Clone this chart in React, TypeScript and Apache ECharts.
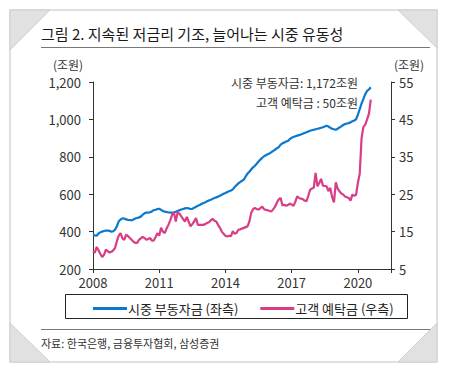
import React, { useEffect, useRef } from 'react';
import * as echarts from 'echarts';

// Monthly data, January 2008 to August 2020
const startYear = 2008;
const xTickYears = [2008, 2011, 2014, 2017, 2020];
const leftAxisRange = [200, 1200];
const rightAxisRange = [5, 55];
const seriesNames = ['시중 부동자금 (좌측)', '고객 예탁금 (우측)'];

// 시중 부동자금 (조원), left axis
const liquidity = [
  383, 380, 378, 390, 396, 400, 403, 405, 406, 404, 399, 402,
  410, 430, 455, 465, 471, 470, 465, 463, 462, 460, 465, 470,
  473, 476, 480, 490, 498, 502, 502, 503, 508, 515, 517, 520,
  522, 516, 510, 507, 505, 503, 502, 502, 503, 506, 510, 514,
  518, 521, 524, 526, 524, 521, 522, 527, 533, 538, 542, 548,
  553, 556, 562, 566, 570, 575, 580, 583, 587, 592, 597, 602,
  606, 612, 616, 620, 626, 638, 648, 658, 665, 672, 678, 695,
  710, 720, 732, 744, 752, 763, 775, 785, 795, 803, 808, 814,
  818, 825, 832, 838, 846, 852, 865, 872, 877, 882, 885, 895,
  902, 906, 910, 913, 916, 919, 923, 927, 931, 935, 939, 942,
  945, 947, 950, 952, 955, 958, 962, 966, 962, 955, 950, 947,
  945, 950, 957, 963, 970, 975, 978, 980, 984, 990, 994, 1000,
  1025, 1055, 1085, 1110, 1135, 1152, 1160, 1172,
];

// 고객 예탁금 (조원), right axis
const deposits = [
  9.7, 9.4, 10.9, 10.0, 9.0, 8.2, 8.8, 10.2, 9.8, 9.4, 9.6, 10.0,
  10.6, 12.5, 13.9, 14.6, 13.2, 12.8, 14.2, 13.8, 13.3, 12.8, 12.3, 12.0,
  12.0, 12.8, 13.2, 13.6, 13.3, 12.8, 13.0, 13.3, 12.6, 12.6, 13.5, 14.6,
  13.9, 16.0, 15.0, 14.6, 15.8, 16.8, 18.0, 19.5, 20.1, 17.7, 20.1, 19.8,
  19.1, 18.3, 17.7, 18.9, 17.7, 16.4, 17.0, 17.7, 18.6, 16.8, 16.8, 16.8,
  16.8, 17.0, 17.3, 17.5, 18.0, 18.4, 17.9, 17.7, 16.8, 16.0, 15.0, 14.4,
  13.9, 13.7, 13.9, 13.8, 15.1, 14.4, 14.6, 15.5, 15.6, 15.8, 16.0, 16.2,
  16.4, 17.7, 20.0, 21.0, 21.3, 21.0, 20.9, 21.3, 21.7, 21.0, 20.8, 20.7,
  20.5, 20.4, 21.0, 21.7, 22.8, 23.6, 24.0, 22.0, 22.2, 21.9, 22.1, 22.5,
  22.2, 21.9, 23.0, 24.4, 24.0, 23.8, 23.7, 23.3, 23.1, 24.5, 26.2, 26.5,
  26.7, 30.7, 27.1, 28.0, 29.1, 27.3, 27.2, 27.1, 25.8, 26.7, 24.2, 22.8,
  28.2, 26.5, 25.8, 25.2, 24.9, 24.4, 24.2, 24.0, 23.3, 24.9, 24.6, 24.8,
  28.0, 30.5, 40.0, 43.0, 43.6, 45.0, 46.5, 50.3,
];

const annotations = ['시중 부동자금: 1,172조원', '고객 예탁금 : 50조원'];
const titleText = '그림 2. 지속된 저금리 기조, 늘어나는 시중 유동성';
const sourceText = '자료: 한국은행, 금융투자협회, 삼성증권';
const unitText = '(조원)';

const FONT = '"Noto Sans CJK KR", "Noto Sans", sans-serif';
const BLUE = '#0a78cf';
const PINK = '#d93d86';
const TXT = '#333333';

const toPairs = (arr: number[]) => arr.map((v, i) => [startYear + i / 12, v]);

export default function App() {
  const ref = useRef<HTMLDivElement>(null);
  useEffect(() => {
    if (!ref.current) return;
    const chart = echarts.init(ref.current, null, { renderer: 'svg' });
    const tri = (pts: number[][]) => ({
      type: 'polygon',
      shape: { points: pts },
      style: { fill: '#e1e1e1', stroke: '#cfcfcf', lineWidth: 1 },
      z: 1,
    });
    chart.setOption({
      animation: false,
      backgroundColor: '#ffffff',
      textStyle: { fontFamily: FONT },
      grid: { left: 93, right: 58, top: 82, bottom: 104, containLabel: false },
      legend: {
        left: 88,
        top: 297,
        itemWidth: 34,
        itemHeight: 3,
        itemGap: 22,
        icon: 'rect',
        textStyle: { fontFamily: FONT, fontSize: 13, color: '#222', padding: [0, 0, 0, -4] },
        data: seriesNames,
      },
      xAxis: {
        type: 'value',
        min: 2008,
        max: 2021.5,
        interval: 3,
        axisLine: { lineStyle: { color: '#333', width: 1 } },
        axisTick: { show: true, inside: false, length: 4, lineStyle: { color: '#333' } },
        splitLine: { show: false },
        axisLabel: {
          color: TXT,
          fontSize: 13,
          fontFamily: FONT,
          margin: 7,
          formatter: (v: number) => (xTickYears.includes(v) ? String(v) : ''),
        },
      },
      yAxis: [
        {
          type: 'value',
          min: leftAxisRange[0],
          max: leftAxisRange[1],
          interval: 200,
          position: 'left',
          axisLine: { show: true, lineStyle: { color: '#333', width: 1 } },
          axisTick: { show: true, inside: false, length: 4, lineStyle: { color: '#333' } },
          splitLine: { show: false },
          axisLabel: {
            color: TXT,
            fontSize: 13,
            fontFamily: FONT,
            margin: 12,
            formatter: (v: number) => v.toLocaleString('en-US'),
          },
        },
        {
          type: 'value',
          min: rightAxisRange[0],
          max: rightAxisRange[1],
          interval: 10,
          position: 'right',
          axisLine: { show: true, lineStyle: { color: '#333', width: 1 } },
          axisTick: { show: true, inside: false, length: 4, lineStyle: { color: '#333' } },
          splitLine: { show: false },
          axisLabel: { color: TXT, fontSize: 13, fontFamily: FONT, margin: 8 },
        },
      ],
      series: [
        {
          name: seriesNames[0],
          type: 'line',
          yAxisIndex: 0,
          data: toPairs(liquidity),
          showSymbol: false,
          symbol: 'none',
          lineStyle: { color: BLUE, width: 2.2 },
          itemStyle: { color: BLUE },
          z: 3,
        },
        {
          name: seriesNames[1],
          type: 'line',
          yAxisIndex: 1,
          data: toPairs(deposits),
          showSymbol: false,
          symbol: 'none',
          lineStyle: { color: PINK, width: 2.2 },
          itemStyle: { color: PINK },
          z: 4,
        },
      ],
      graphic: [
        {
          type: 'rect',
          shape: { x: 10, y: 10, width: 427, height: 352 },
          style: { fill: 'none', stroke: '#d6d6d6', lineWidth: 1.5 },
          z: 0,
        },
        tri([[10, 10], [50, 10], [10, 50]]),
        tri([[398, 10], [437, 10], [437, 48]]),
        tri([[10, 323], [10, 362], [50, 362]]),
        tri([[437, 323], [437, 362], [398, 362]]),
        {
          type: 'text',
          x: 41,
          y: 33,
          style: { text: titleText, fontSize: 15, fontFamily: FONT, fill: '#1a1a1a', verticalAlign: 'middle', fontWeight: 'normal' },
        },
        {
          type: 'line',
          shape: { x1: 41, y1: 47.5, x2: 430, y2: 47.5 },
          style: { stroke: '#777', lineWidth: 1 },
        },
        {
          type: 'text',
          x: 68,
          y: 64,
          style: { text: unitText, fontSize: 12, fontFamily: FONT, fill: TXT, align: 'center', verticalAlign: 'middle' },
        },
        {
          type: 'text',
          x: 409,
          y: 64,
          style: { text: unitText, fontSize: 12, fontFamily: FONT, fill: TXT, align: 'center', verticalAlign: 'middle' },
        },
        {
          type: 'text',
          x: 358,
          y: 82,
          style: { text: annotations[0], fontSize: 12, fontFamily: FONT, fill: TXT, align: 'right', verticalAlign: 'middle' },
        },
        {
          type: 'text',
          x: 358,
          y: 102,
          style: { text: annotations[1], fontSize: 12, fontFamily: FONT, fill: TXT, align: 'right', verticalAlign: 'middle' },
        },
        {
          type: 'rect',
          shape: { x: 65.5, y: 294.5, width: 342, height: 24 },
          style: { fill: 'none', stroke: '#222', lineWidth: 1 },
        },
        {
          type: 'line',
          shape: { x1: 41, y1: 329.5, x2: 430, y2: 329.5 },
          style: { stroke: '#777', lineWidth: 1 },
        },
        {
          type: 'text',
          x: 41,
          y: 343,
          style: { text: sourceText, fontSize: 11, fontFamily: FONT, fill: TXT, verticalAlign: 'middle' },
        },
      ],
    });
    return () => chart.dispose();
  }, []);
  return (
    <div
      ref={ref}
      style={{ position: 'fixed', left: 0, top: 0, width: 449, height: 373, background: '#fff' }}
    />
  );
}
